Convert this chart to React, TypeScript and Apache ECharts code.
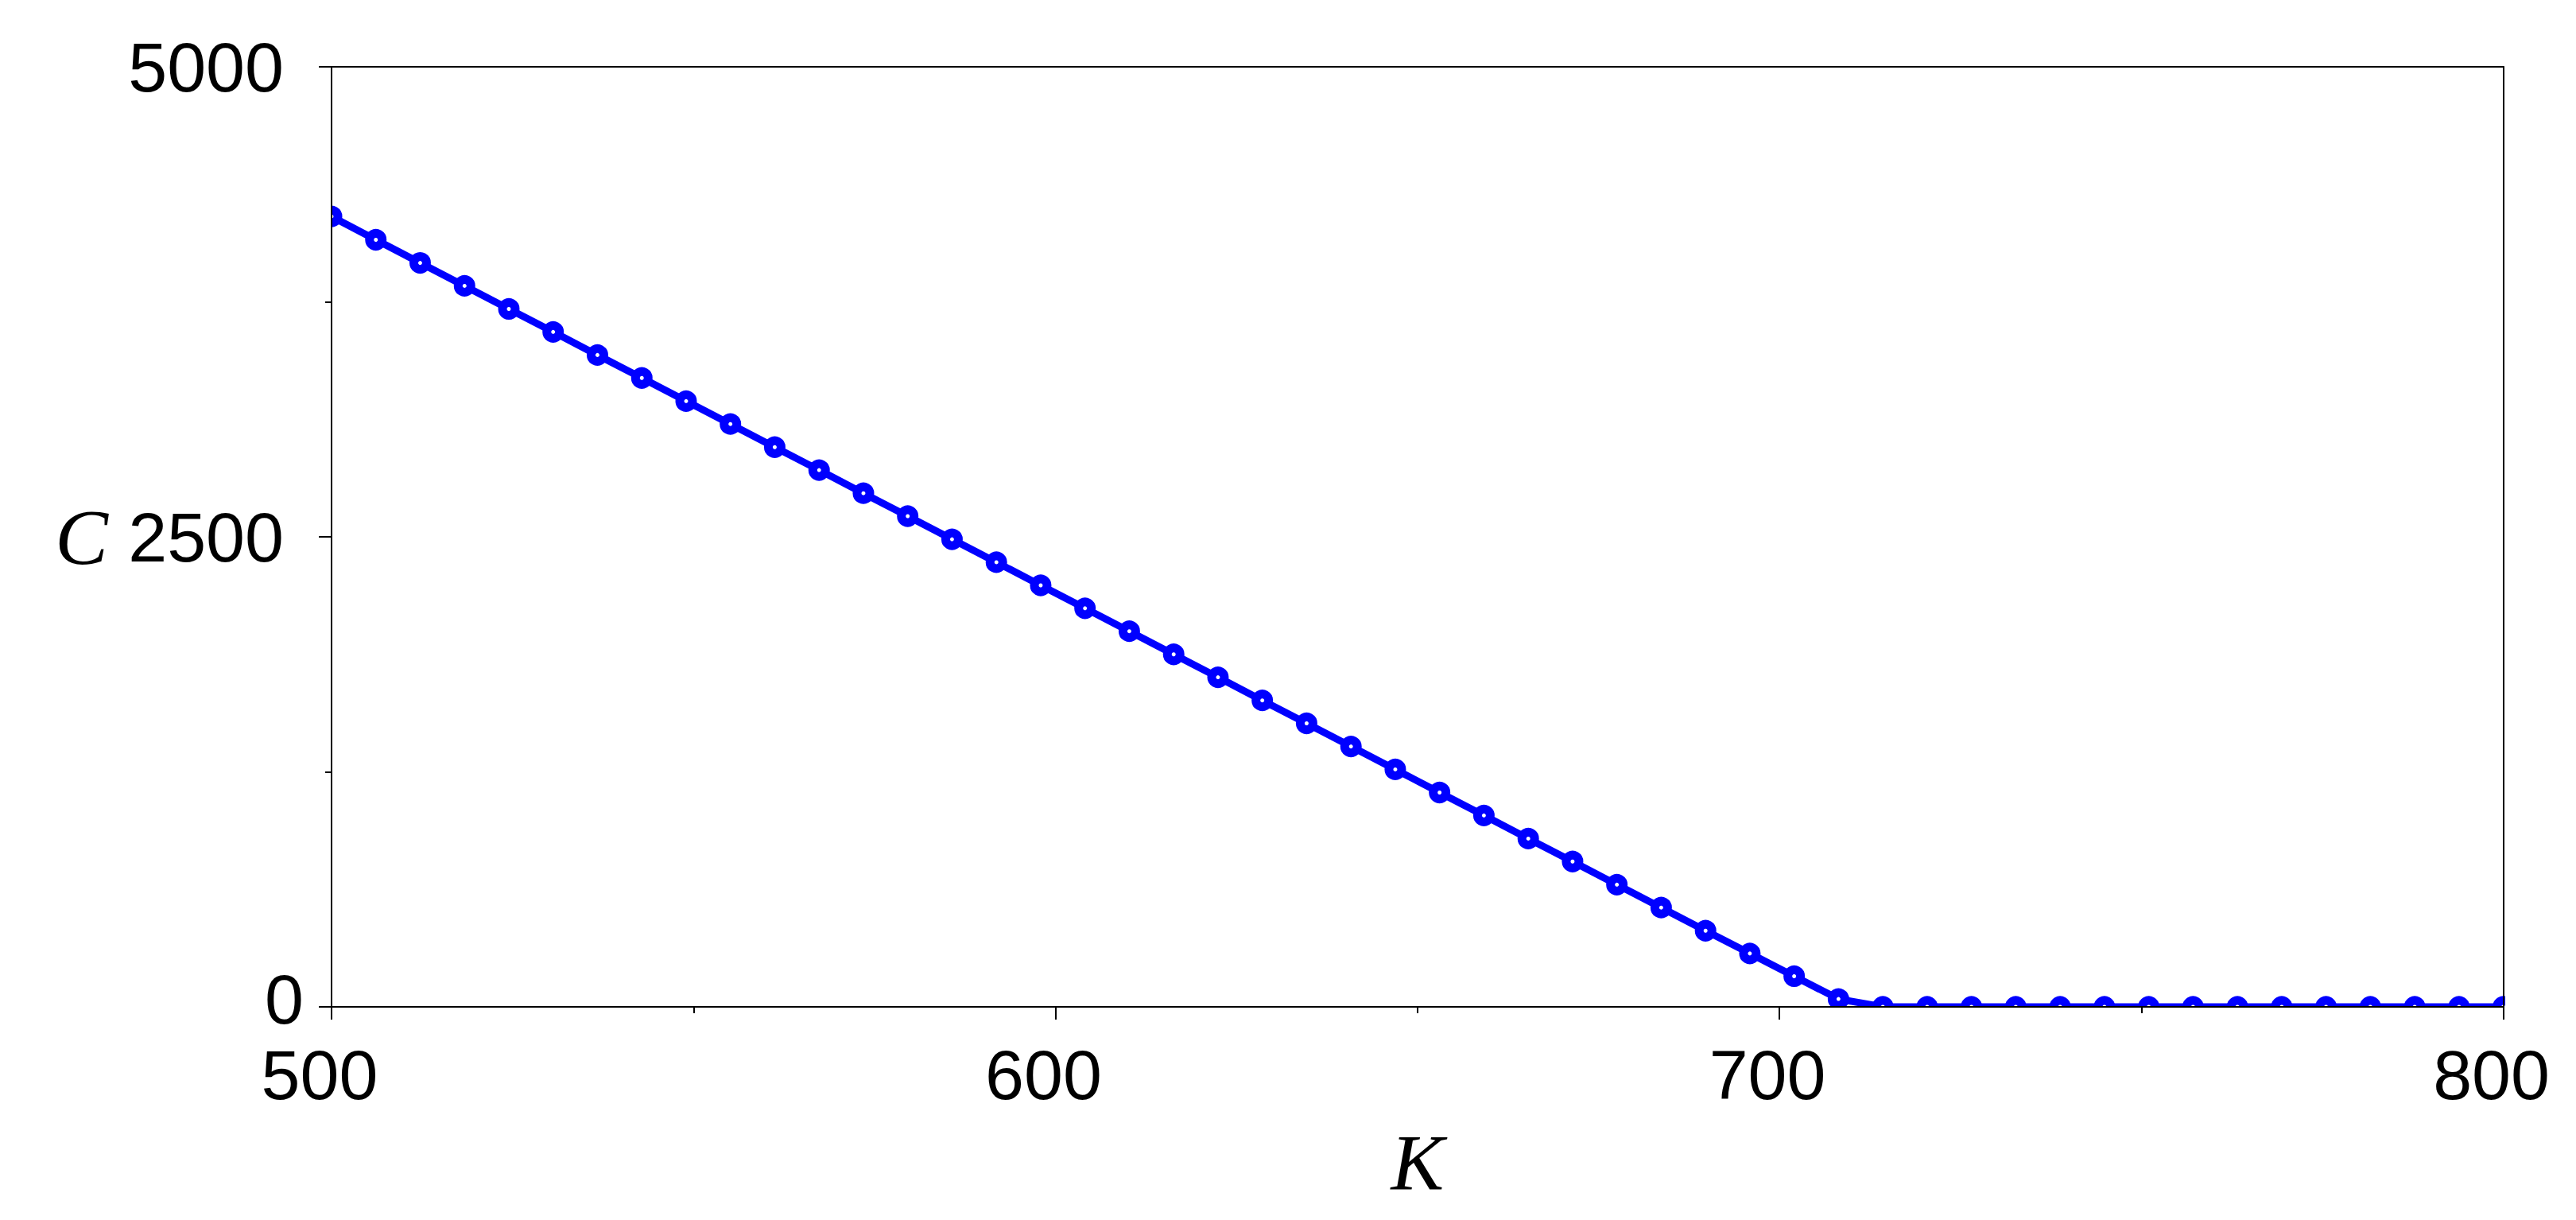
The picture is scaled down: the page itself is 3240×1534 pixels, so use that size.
import React, { useEffect, useRef } from "react";
import * as echarts from "echarts";

const kValues = [
  500, 506.12, 512.24, 518.37, 524.49, 530.61, 536.73, 542.86, 548.98, 555.1,
  561.22, 567.35, 573.47, 579.59, 585.71, 591.84, 597.96, 604.08, 610.2, 616.33,
  622.45, 628.57, 634.69, 640.82, 646.94, 653.06, 659.18, 665.31, 671.43, 677.55,
  683.67, 689.8, 695.92, 702.04, 708.16, 714.29, 720.41, 726.53, 732.65, 738.78,
  744.9, 751.02, 757.14, 763.27, 769.39, 775.51, 781.63, 787.76, 793.88, 800,
];

const cValues = [
  4204, 4080, 3957, 3835, 3712, 3590, 3467, 3345, 3222, 3100,
  2977, 2855, 2732, 2610, 2487, 2365, 2242, 2120, 1998, 1875,
  1753, 1630, 1508, 1385, 1263, 1140, 1018, 895, 773, 650,
  528, 405, 284, 163, 42, 0, 0, 0, 0, 0,
  0, 0, 0, 0, 0, 0, 0, 0, 0, 0,
];

const xTicks = { min: 500, max: 800, interval: 100 };
const yTicks = { min: 0, max: 5000, interval: 2500 };
const xName = "K";
const yName = "C";

const W = 3240;
const H = 1534;
const G = { left: 417, right: 90, top: 84, bottom: 268 };

export default function App() {
  const ref = useRef<HTMLDivElement>(null);
  useEffect(() => {
    document.body.style.margin = "0";
    const chart = echarts.init(ref.current!, null, { renderer: "svg" });
    const sans = "'Liberation Sans', Arial, Helvetica, sans-serif";
    const serif = "'Liberation Serif', 'Times New Roman', serif";
    const fs = 88;
    const data = kValues.map((k, i) => [k, cValues[i]]);
    const gx0 = G.left;
    const gx1 = W - G.right;
    const gy0 = G.top;
    const gy1 = H - G.bottom;
    chart.setOption({
      animation: false,
      backgroundColor: "#ffffff",
      grid: { left: G.left, right: G.right, top: G.top, bottom: G.bottom, show: false },
      xAxis: [
        {
          type: "value",
          min: xTicks.min,
          max: xTicks.max,
          interval: xTicks.interval,
          z: 10,
          name: xName,
          nameLocation: "middle",
          nameGap: 145,
          nameTextStyle: { fontFamily: serif, fontStyle: "italic", fontSize: 100, color: "#000" },
          axisLine: { show: true, onZero: false, lineStyle: { color: "#000", width: 2 } },
          axisTick: { show: true, inside: false, length: 16, lineStyle: { color: "#000", width: 2 } },
          minorTick: { show: true, splitNumber: 2, length: 8, lineStyle: { color: "#000", width: 2 } },
          splitLine: { show: false },
          axisLabel: {
            margin: 47,
            color: "#000",
            fontSize: fs,
            fontFamily: sans,
            lineHeight: 76,
            formatter: (v: number) => `{b|${v}}`,
            rich: { b: { fontSize: fs, fontFamily: sans, color: "#000", lineHeight: 76, padding: [0, 30, 0, 0] } },
          },
        },
        {
          type: "value",
          position: "top",
          min: xTicks.min,
          max: xTicks.max,
          z: 10,
          axisLine: { show: true, onZero: false, lineStyle: { color: "#000", width: 2 } },
          axisTick: { show: false },
          axisLabel: { show: false },
          splitLine: { show: false },
        },
      ],
      yAxis: [
        {
          type: "value",
          min: yTicks.min,
          max: yTicks.max,
          interval: yTicks.interval,
          z: 10,
          name: yName,
          nameLocation: "middle",
          nameRotate: 0,
          nameGap: 281,
          nameTextStyle: { fontFamily: serif, fontStyle: "italic", fontSize: 100, color: "#000" },
          axisLine: { show: true, onZero: false, lineStyle: { color: "#000", width: 2 } },
          axisTick: { show: true, inside: false, length: 16, lineStyle: { color: "#000", width: 2 } },
          minorTick: { show: true, splitNumber: 2, length: 8, lineStyle: { color: "#000", width: 2 } },
          splitLine: { show: false },
          axisLabel: {
            margin: 35,
            color: "#000",
            fontSize: fs,
            fontFamily: sans,
            lineHeight: 64,
            formatter: (v: number) => (v === 0 ? `{a|${v}}` : `{b|${v}}`),
            rich: {
              a: { fontSize: fs, fontFamily: sans, color: "#000", lineHeight: 64, padding: [0, 0, 20, 0] },
              b: { fontSize: fs, fontFamily: sans, color: "#000", lineHeight: 64, padding: [0, 25, 0, 0] },
            },
          },
        },
        {
          type: "value",
          position: "right",
          min: yTicks.min,
          max: yTicks.max,
          z: 10,
          axisLine: { show: true, onZero: false, lineStyle: { color: "#000", width: 2 } },
          axisTick: { show: false },
          axisLabel: { show: false },
          splitLine: { show: false },
        },
      ],
      graphic: [
        { type: "rect", z: 5, silent: true, shape: { x: gx0, y: gy1 + 1, width: gx1 - gx0 + 20, height: 30 }, style: { fill: "#fff" } },
        { type: "rect", z: 5, silent: true, shape: { x: gx0 - 30, y: gy0 - 20, width: 29, height: gy1 - gy0 + 50 }, style: { fill: "#fff" } },
        { type: "rect", z: 5, silent: true, shape: { x: gx1 + 1, y: gy0 - 20, width: 30, height: gy1 - gy0 + 50 }, style: { fill: "#fff" } },
      ],
      series: [
        {
          type: "line",
          data,
          clip: true,
          symbol: "circle",
          symbolSize: 16,
          showSymbol: true,
          lineStyle: { color: "#0000ff", width: 9 },
          itemStyle: { color: "#ffffff", borderColor: "#0000ff", borderWidth: 11 },
          z: 2,
        },
      ],
    });
    return () => chart.dispose();
  }, []);
  return <div ref={ref} style={{ width: W, height: H }} />;
}
